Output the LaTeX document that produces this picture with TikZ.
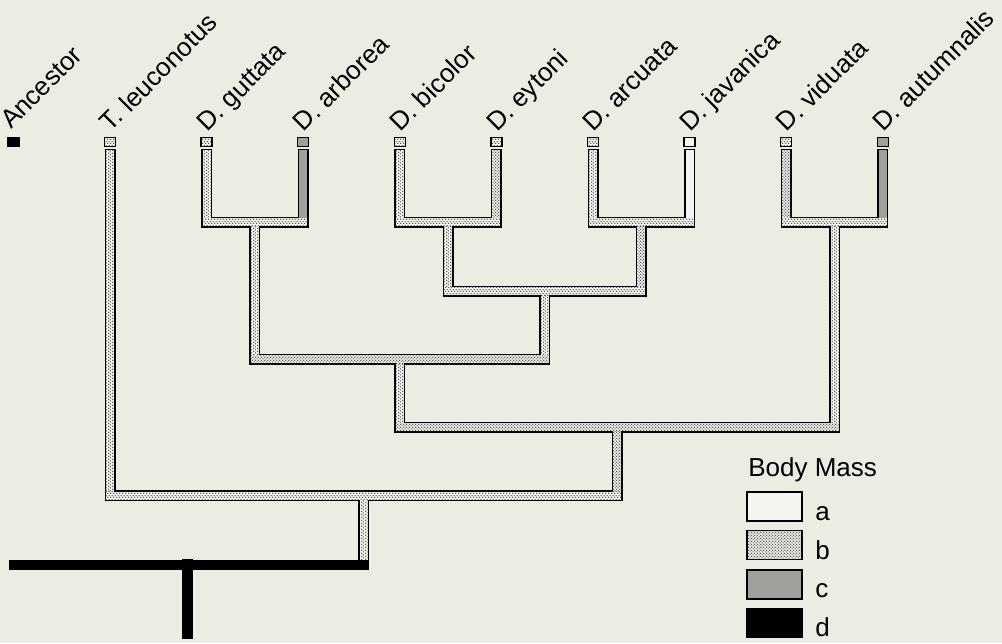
\documentclass[tikz,border=0pt]{standalone}
\usepackage{fontspec}
\setmainfont{Liberation Sans}
\usetikzlibrary{calc,patterns}
\definecolor{bg}{RGB}{236,236,227}
\definecolor{paper}{RGB}{245,245,239}
\definecolor{cgray}{RGB}{160,160,154}
\pgfdeclarepatternformonly{stipdots}{\pgfqpoint{0pt}{0pt}}{\pgfqpoint{2.4pt}{2.4pt}}{\pgfqpoint{2.4pt}{2.4pt}}{%
  \pgfpathcircle{\pgfqpoint{0.6pt}{0.6pt}}{0.5pt}%
  \pgfpathcircle{\pgfqpoint{1.8pt}{1.8pt}}{0.5pt}%
  \pgfusepath{fill}}
\tikzset{
  stip/.style={preaction={fill=paper}, pattern=stipdots, pattern color=black!85},
  ma/.style={fill=paper},
  mb/.style={stip},
  mc/.style={fill=cgray},
  md/.style={fill=black},
  tipsq/.style={draw=black, line width=1.1pt, minimum width=2.75mm, minimum height=2.3mm, inner sep=0pt},
  lbl/.style={anchor=base west, rotate=45, inner sep=0pt, font=\fontsize{18.5}{22}\selectfont},
  legbox/.style={draw=black, line width=1.1pt, minimum width=13.75mm, minimum height=7.25mm, inner sep=0pt},
  legtxt/.style={anchor=base west, inner sep=0pt, font=\fontsize{18.5}{22}\selectfont},
}
% vertical band: child #1 down to level of parent #2, half width #3, style #4
\newcommand\vband[4]{\fill[#4] ($(#1)+(-#3,-#3)$) rectangle ($(#1 |- #2)+(#3,#3)$);}
% horizontal band: left child #1 to right child #2 at level of parent #3
\newcommand\hband[5]{\fill[#5] ($(#1 |- #3)+(-#4,-#4)$) rectangle ($(#2 |- #3)+(#4,#4)$);}
\begin{document}
\begin{tikzpicture}[x=0.25mm,y=-0.25mm]
\fill[bg] (0,0) rectangle (1002,643);
\useasboundingbox (0,0) rectangle (1002,643);

% tip squares
\node[tipsq, md] (s0) at (13.5,142) {};
\node[tipsq, mb] (s1) at (110,142) {};
\node[tipsq, mb] (s2) at (206.6,142) {};
\node[tipsq, mc] (s3) at (303.2,142) {};
\node[tipsq, mb] (s4) at (399.8,142) {};
\node[tipsq, mb] (s5) at (496.4,142) {};
\node[tipsq, mb] (s6) at (593,142) {};
\node[tipsq, ma] (s7) at (689.6,142) {};
\node[tipsq, mb] (s8) at (786.2,142) {};
\node[tipsq, mc] (s9) at (882.8,142) {};

% labels
\node[lbl] (l0) at (11,130) {Ancestor};
\node[lbl] (l1) at (110.5,133) {T. leuconotus};
\node[lbl] (l2) at (207.1,133) {D. guttata};
\node[lbl] (l3) at (303.7,133) {D. arborea};
\node[lbl] (l4) at (400.3,133) {D. bicolor};
\node[lbl] (l5) at (496.9,133) {D. eytoni};
\node[lbl] (l6) at (593.5,133) {D. arcuata};
\node[lbl] (l7) at (690.1,133) {D. javanica};
\node[lbl] (l8) at (786.7,133) {D. viduata};
\node[lbl] (l9) at (883.3,133) {D. autumnalis};

% branch tops
\coordinate (t0) at (13.5,154);
\coordinate (t1) at (110,154);
\coordinate (t2) at (206.6,154);
\coordinate (t3) at (303.2,154);
\coordinate (t4) at (399.8,154);
\coordinate (t5) at (496.4,154);
\coordinate (t6) at (593,154);
\coordinate (t7) at (689.6,154);
\coordinate (t8) at (786.2,154);
\coordinate (t9) at (882.8,154);
% internal nodes
\coordinate (ga) at (254.9,222);
\coordinate (be) at (448.1,222);
\coordinate (aj) at (641.3,222);
\coordinate (va) at (834.5,222);
\coordinate (bj) at (544.7,291);
\coordinate (gb) at (399.8,359);
\coordinate (big) at (617.2,427);
\coordinate (root) at (363.6,495.5);
\coordinate (blk) at (187.5,564.5);
\coordinate (bot) at (187.5,633);

% outline pass
\foreach \c/\p in {t1/root,t2/ga,t3/ga,t4/be,t5/be,t6/aj,t7/aj,t8/va,t9/va,ga/gb,be/bj,aj/bj,bj/gb,gb/big,va/big,big/root,root/blk}
  {\vband{\c}{\p}{5.5}{black}}
\foreach \l/\r/\p in {t2/t3/ga,t4/t5/be,t6/t7/aj,t8/t9/va,be/aj/bj,ga/bj/gb,gb/va/big,t1/big/root}
  {\hband{\l}{\r}{\p}{5.5}{black}}

% inner pass: tip branches
\foreach \c/\p/\s in {t1/root/mb,t2/ga/mb,t3/ga/mc,t4/be/mb,t5/be/mb,t6/aj/mb,t7/aj/ma,t8/va/mb,t9/va/mc}
  {\vband{\c}{\p}{4}{\s}}
% inner pass: internal branches
\foreach \c/\p in {ga/gb,be/bj,aj/bj,bj/gb,gb/big,va/big,big/root,root/blk}
  {\vband{\c}{\p}{4}{mb}}
\foreach \l/\r/\p in {t2/t3/ga,t4/t5/be,t6/t7/aj,t8/t9/va,be/aj/bj,ga/bj/gb,gb/va/big,t1/big/root}
  {\hband{\l}{\r}{\p}{4}{mb}}

% ancestral (d) branch
\hband{t0}{root}{blk}{5}{md}
\vband{blk}{bot}{5.5}{md}

% legend
\node[legtxt] (lt) at (748,476) {Body Mass};
\node[legbox, ma] (ka) at (774.5,506.5) {};
\node[legbox, mb] (kb) at (774.5,545) {};
\node[legbox, mc] (kc) at (774.5,584.5) {};
\node[legbox, md] (kd) at (774.5,623) {};
\node[legtxt] (la) at (815,520) {a};
\node[legtxt] (lb) at (815,559) {b};
\node[legtxt] (lc) at (815,597.5) {c};
\node[legtxt] (ld) at (815,636.5) {d};
\end{tikzpicture}
\end{document}
